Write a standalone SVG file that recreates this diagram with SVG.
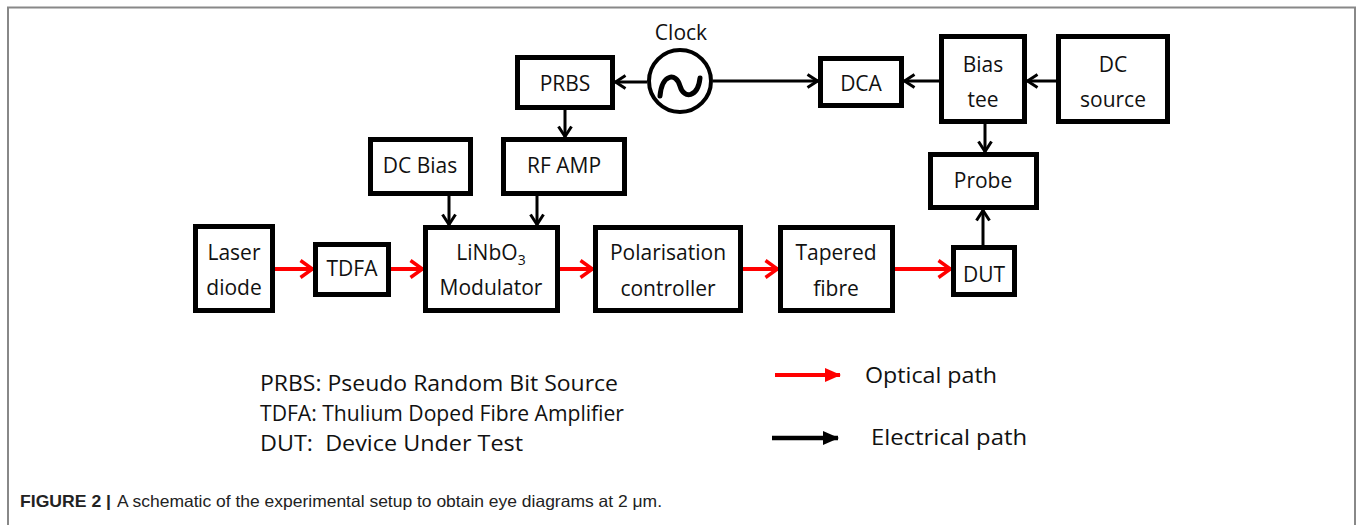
<svg xmlns="http://www.w3.org/2000/svg" width="1362" height="525" viewBox="0 0 1362 525">
<style>
.box{fill:#fff;stroke:#000;stroke-width:5}
.t{font-family:"Open Sans","Liberation Sans",sans-serif;font-size:21px;fill:#111;text-anchor:middle}
.lg{font-family:"Open Sans","Liberation Sans",sans-serif;font-size:22.5px;fill:#111;white-space:pre}
.el{stroke:#000;stroke-width:3;fill:none}
.op{stroke:#f00;stroke-width:4;fill:none}
.cap{font-family:"Liberation Sans",Arial,sans-serif;font-size:16.5px;fill:#222}
</style>
<defs>
<marker id="ah-b" markerUnits="userSpaceOnUse" viewBox="0 0 14 16" markerWidth="14" markerHeight="16" refX="12.5" refY="8" orient="auto">
<path d="M2,1.5 L12,8 L2,14.5" fill="none" stroke="#000" stroke-width="3"/>
</marker>
<marker id="ah-r" markerUnits="userSpaceOnUse" viewBox="0 0 16 20" markerWidth="16" markerHeight="20" refX="14.5" refY="10" orient="auto">
<path d="M2,1.5 L14,10 L2,18.5" fill="none" stroke="#f00" stroke-width="3.5"/>
</marker>
<marker id="tri-r" markerUnits="userSpaceOnUse" viewBox="0 0 16 14" markerWidth="16" markerHeight="14" refX="15" refY="7" orient="auto">
<path d="M0,0 L16,7 L0,14 Z" fill="#f00"/>
</marker>
<marker id="tri-b" markerUnits="userSpaceOnUse" viewBox="0 0 16 14" markerWidth="16" markerHeight="14" refX="15" refY="7" orient="auto">
<path d="M0,0 L16,7 L0,14 Z" fill="#000"/>
</marker>
</defs>
<rect width="1362" height="525" fill="#fff"/>
<path d="M8,525 V7.5 H1355 V525" fill="none" stroke="#888" stroke-width="2"/>

<g id="connectors">
<line class="el" x1="647" y1="82" x2="615" y2="82" marker-end="url(#ah-b)"/>
<line class="el" x1="713" y1="81" x2="818" y2="81" marker-end="url(#ah-b)"/>
<line class="el" x1="939" y1="81" x2="904" y2="81" marker-end="url(#ah-b)"/>
<line class="el" x1="1056" y1="81" x2="1027" y2="81" marker-end="url(#ah-b)"/>
<line class="el" x1="985" y1="124" x2="985" y2="152" marker-end="url(#ah-b)"/>
<line class="el" x1="565" y1="110" x2="565" y2="137" marker-end="url(#ah-b)"/>
<line class="el" x1="449" y1="196" x2="449" y2="225" marker-end="url(#ah-b)"/>
<line class="el" x1="537" y1="196" x2="537" y2="225" marker-end="url(#ah-b)"/>
<line class="el" x1="983" y1="245" x2="983" y2="210" marker-end="url(#ah-b)"/>
<line class="op" x1="275" y1="269" x2="313" y2="269" marker-end="url(#ah-r)"/>
<line class="op" x1="391" y1="269" x2="423" y2="269" marker-end="url(#ah-r)"/>
<line class="op" x1="560" y1="269" x2="593" y2="269" marker-end="url(#ah-r)"/>
<line class="op" x1="743" y1="269" x2="778" y2="269" marker-end="url(#ah-r)"/>
<line class="op" x1="895" y1="269" x2="951" y2="269" marker-end="url(#ah-r)"/>
</g>

<g id="clock">
<circle cx="680" cy="81" r="31" fill="#fff" stroke="#000" stroke-width="4"/>
<path d="M660,96 C662,74 676,72 680,86 C684,100 698,97 700,78" fill="none" stroke="#000" stroke-width="5" stroke-linecap="round"/>
<text class="t" x="681" y="40">Clock</text>
</g>
<g id="prbs"><rect class="box" x="517.5" y="57.5" width="95" height="50"/><text class="t" x="565" y="91">PRBS</text></g>
<g id="dcbias"><rect class="box" x="370.5" y="139.5" width="100" height="54"/><text class="t" x="420" y="173">DC Bias</text></g>
<g id="rfamp"><rect class="box" x="503.5" y="139.5" width="121" height="54"/><text class="t" x="564" y="173">RF AMP</text></g>
<g id="dca"><rect class="box" x="820.5" y="58.5" width="81" height="47"/><text class="t" x="861" y="91">DCA</text></g>
<g id="biastee"><rect class="box" x="941.5" y="36.5" width="83" height="85"/><text class="t" x="983" y="72">Bias</text><text class="t" x="983" y="107">tee</text></g>
<g id="dcsource"><rect class="box" x="1058.5" y="36.5" width="109" height="85"/><text class="t" x="1113" y="72">DC</text><text class="t" x="1113" y="107">source</text></g>
<g id="probe"><rect class="box" x="930.5" y="154.5" width="106" height="53"/><text class="t" x="983" y="188">Probe</text></g>
<g id="laser"><rect class="box" x="195.5" y="226.5" width="77" height="84"/><text class="t" x="234" y="260">Laser</text><text class="t" x="234" y="295">diode</text></g>
<g id="tdfa"><rect class="box" x="315.5" y="244.5" width="73" height="50"/><text class="t" x="352" y="276">TDFA</text></g>
<g id="modulator"><rect class="box" x="425.5" y="227.5" width="132" height="83"/><text class="t" x="491" y="260">LiNbO<tspan font-size="14" dy="5">3</tspan></text><text class="t" x="491" y="295">Modulator</text></g>
<g id="polarisation"><rect class="box" x="595.5" y="227.5" width="145" height="83"/><text class="t" x="668" y="260">Polarisation</text><text class="t" x="668" y="296">controller</text></g>
<g id="tapered"><rect class="box" x="780.5" y="227.5" width="112" height="83"/><text class="t" x="836" y="260">Tapered</text><text class="t" x="836" y="296">fibre</text></g>
<g id="dut"><rect class="box" x="953.5" y="247.5" width="61" height="47"/><text class="t" x="984" y="282">DUT</text></g>

<g id="legend">
<text class="lg" x="260" y="391" textLength="358" lengthAdjust="spacingAndGlyphs">PRBS: Pseudo Random Bit Source</text>
<text class="lg" x="260" y="421" textLength="364" lengthAdjust="spacingAndGlyphs">TDFA: Thulium Doped Fibre Amplifier</text>
<text class="lg" x="260" y="451" textLength="263" lengthAdjust="spacingAndGlyphs">DUT:  Device Under Test</text>
<line x1="775" y1="375" x2="840" y2="375" stroke="#f00" stroke-width="4" marker-end="url(#tri-r)"/>
<line x1="772" y1="438" x2="838" y2="438" stroke="#000" stroke-width="4.5" marker-end="url(#tri-b)"/>
<text class="lg" x="865" y="383" textLength="132" lengthAdjust="spacingAndGlyphs">Optical path</text>
<text class="lg" x="871" y="445" textLength="156" lengthAdjust="spacingAndGlyphs">Electrical path</text>
</g>

<g id="caption">
<text class="cap" x="20" y="507" font-weight="bold" textLength="91" lengthAdjust="spacingAndGlyphs">FIGURE 2 |</text>
<text class="cap" x="117" y="507" textLength="545" lengthAdjust="spacingAndGlyphs">A schematic of the experimental setup to obtain eye diagrams at 2 μm.</text>
</g>
</svg>
